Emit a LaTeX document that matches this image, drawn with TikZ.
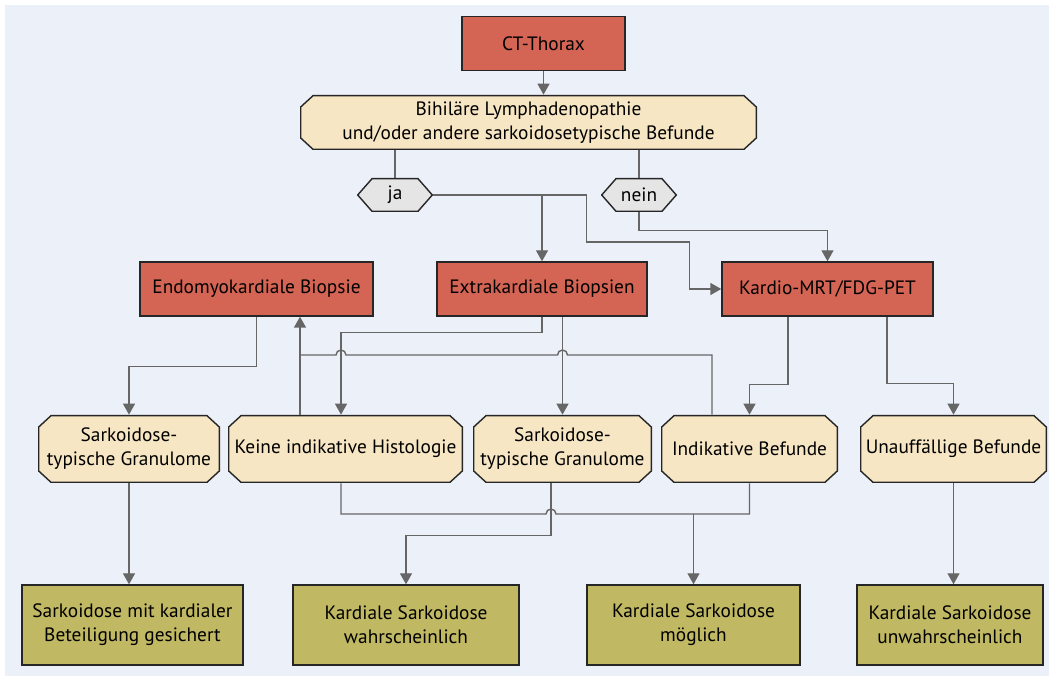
\documentclass[tikz,border=0pt]{standalone}
\usepackage{fontspec}
\setmainfont{PT Sans}
\usetikzlibrary{arrows.meta}
\usetikzlibrary{calc}
\definecolor{hintergrund}{HTML}{ECF0F9}
\definecolor{rot}{HTML}{D46454}
\definecolor{sand}{HTML}{F7E6C3}
\definecolor{oliv}{HTML}{C0B862}
\definecolor{grau}{HTML}{666666}
\tikzset{
  verbindung/.style={draw=grau, line width=0.8pt},
  pfeil/.style={verbindung, -{Triangle[length=0.22cm,width=0.24cm]}},
  % Rechteck mit abgeschraegten Ecken: #1 = Fuellfarbe, #2 = Ecke x, #3 = Ecke y
  eckig/.style n args={3}{fill=hintergrund, path picture={
    \filldraw[draw=black!85, fill=#1, line width=0.8pt]
      let \p1=(path picture bounding box.south west), \p2=(path picture bounding box.north east) in
      (\x1+0.4pt,\y1+#3) -- (\x1+0.4pt,\y2-#3) -- (\x1+#2,\y2-0.4pt) -- (\x2-#2,\y2-0.4pt)
      -- (\x2-0.4pt,\y2-#3) -- (\x2-0.4pt,\y1+#3) -- (\x2-#2,\y1+0.4pt) -- (\x1+#2,\y1+0.4pt) -- cycle;}},
}

\begin{document}
\begin{tikzpicture}[
  untersuchung/.style={draw=black!85, line width=0.8pt, fill=rot, minimum height=1.08cm, align=center, inner sep=0pt, font=\fontsize{11}{13.7}\selectfont},
  befund/.style={eckig={sand}{0.26cm}{0.24cm}, minimum height=1.36cm, align=center, inner sep=0pt, font=\fontsize{11}{13.7}\selectfont},
  antwort/.style={eckig={gray!20}{0.3cm}{0.34cm}, minimum width=1.52cm, minimum height=0.68cm, inner sep=0pt, font=\fontsize{11}{13.7}\selectfont},
  ergebnis/.style={draw=black!85, line width=0.8pt, fill=oliv, minimum height=1.6cm, align=center, inner sep=0pt, font=\fontsize{11}{13.7}\selectfont}]
  \useasboundingbox (0,0) rectangle (20.98,-13.52);
  \fill[hintergrund] (0.1,-0.1) rectangle (20.98,-13.52);
  \node[untersuchung, minimum width=3.26cm] (ct) at (10.87,-0.87) {CT-Thorax};
  \node[befund, minimum width=9.14cm, minimum height=1.1cm] (lymph) at (10.57,-2.45) {Bihiläre Lymphadenopathie\\und/oder andere sarkoidosetypische Befunde};
  \node[antwort] (ja) at (7.9,-3.9) {ja};
  \node[antwort] (nein) at (12.78,-3.9) {nein};
  \node[untersuchung, minimum width=4.66cm] (endo) at (5.13,-5.78) {Endomyokardiale Biopsie};
  \node[untersuchung, minimum width=4.2cm] (extra) at (10.84,-5.78) {Extrakardiale Biopsien};
  \node[untersuchung, minimum width=4.22cm] (mrt) at (16.55,-5.78) {Kardio-MRT/FDG-PET};
  \node[befund, minimum width=3.64cm] (granA) at (2.58,-8.98) {Sarkoidose-\\typische Granulome};
  \node[befund, minimum width=4.7cm] (keine) at (6.91,-8.98) {Keine indikative Histologie};
  \node[befund, minimum width=3.58cm] (granB) at (11.25,-8.98) {Sarkoidose-\\typische Granulome};
  \node[befund, minimum width=3.54cm] (indik) at (14.99,-8.98) {Indikative Befunde};
  \node[befund, minimum width=3.74cm] (unauff) at (19.07,-8.98) {Unauffällige Befunde};
  \node[ergebnis, minimum width=4.42cm] (gesichert) at (2.65,-12.5) {Sarkoidose mit kardialer\\Beteiligung gesichert};
  \node[ergebnis, minimum width=4.52cm] (wahrsch) at (8.12,-12.5) {Kardiale Sarkoidose\\wahrscheinlich};
  \node[ergebnis, minimum width=4.26cm] (moeglich) at (13.87,-12.5) {Kardiale Sarkoidose\\möglich};
  \node[ergebnis, minimum width=3.72cm] (unwahr) at (19.0,-12.5) {Kardiale Sarkoidose\\unwahrscheinlich};
  % Hilfspunkte
  \coordinate (jaknick) at ($(ja.east)+(3.06,0)$);
  \coordinate (keineL) at ($(keine.north)+(-0.91,0)$);
  \coordinate (keineR) at ($(keine.north)+(-0.09,0)$);
  \coordinate (granBU) at ($(granB.south)+(-0.23,0)$);
  \coordinate (querO) at (0,-7.1);
  \coordinate (querU) at (0,-10.28);
  % oben
  \draw[pfeil] (ct.south) -- (ct.south |- lymph.north);
  \draw[verbindung] (ja.north |- lymph.south) -- (ja.north);
  \draw[verbindung] (nein.north |- lymph.south) -- (nein.north);
  \draw[pfeil] (ja.east) -| (extra.north);
  \draw[pfeil] (ja.east) -- (jaknick) -- ++(0,-0.94) -| ($(mrt.west)+(-0.64,0)$) -- (mrt.west);
  \draw[pfeil] (nein.south) -- ++(0,-0.36) -| (mrt.north);
  % Mitte
  \draw[pfeil] (endo.south) -- ++(0,-1.0) -| (granA.north);
  \draw[pfeil] (keineL) -- (keineL |- endo.south);
  \draw[pfeil] (extra.south) -- ++(0,-0.32) -| (keineR);
  \draw[pfeil] (granB.north |- extra.south) -- (granB.north);
  \draw[verbindung] ($(indik.north)+(-0.75,0)$) |- ($(granB.north |- querO)+(0.1,0)$)
    arc[start angle=0, end angle=180, radius=0.1] -- ($(keineR |- querO)+(0.1,0)$)
    arc[start angle=0, end angle=180, radius=0.1] -- (keineL |- querO);
  \draw[pfeil] ($(mrt.south)+(-0.79,0)$) -- ++(0,-1.36) -| (indik.north);
  \draw[pfeil] ($(mrt.south)+(1.19,0)$) -- ++(0,-1.34) -| (unauff.north);
  % unten
  \draw[pfeil] (granA.south) -- (granA.south |- gesichert.north);
  \draw[verbindung] (keineR |- keine.south) |- ($(granBU |- querU)+(-0.1,0)$)
    arc[start angle=180, end angle=0, radius=0.1] -| (indik.south);
  \draw[pfeil] (moeglich.north |- querU) -- (moeglich.north);
  \draw[pfeil] (granBU) -- ++(0,-1.04) -| (wahrsch.north);
  \draw[pfeil] (unauff.south) -- (unauff.south |- unwahr.north);
\end{tikzpicture}
\end{document}
